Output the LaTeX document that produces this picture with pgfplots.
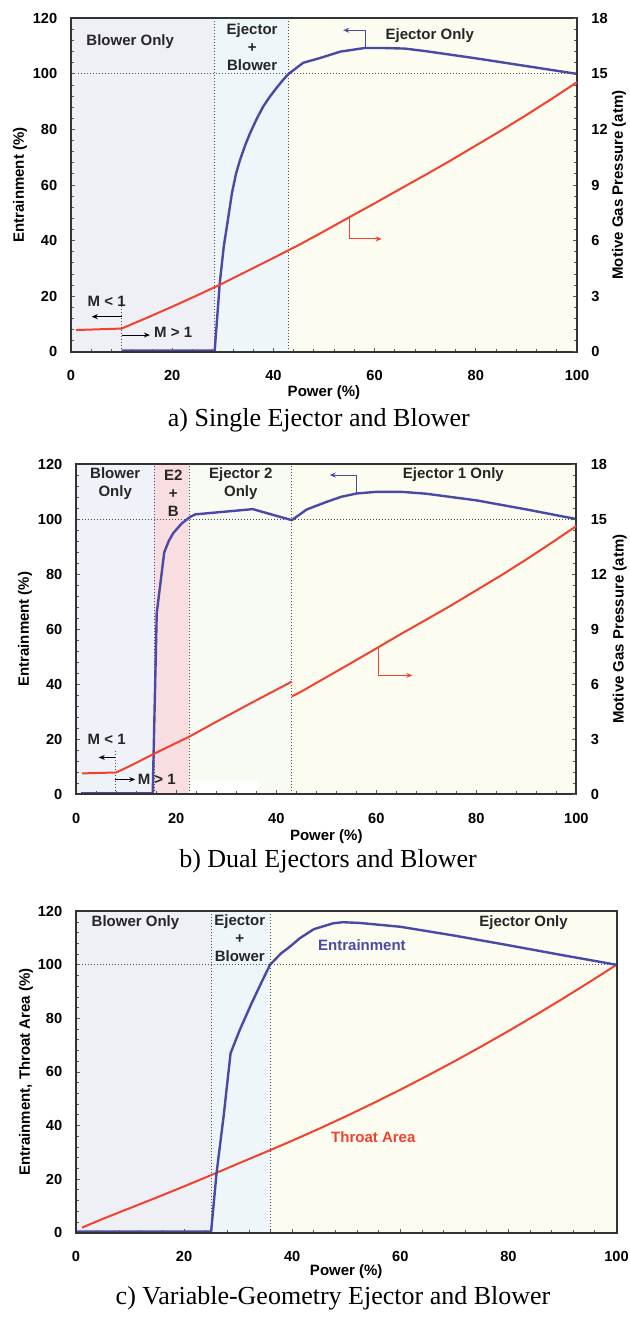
\documentclass[border=0pt]{standalone}
\usepackage{fontspec}
\setmainfont{Liberation Serif}
\setsansfont{Liberation Sans}
\usepackage{pgfplots}
\pgfplotsset{compat=1.18}
\usetikzlibrary{arrows.meta}

\definecolor{entblue}{HTML}{4A4AA6}
\definecolor{prsred}{HTML}{F2412F}
\definecolor{bgblow}{HTML}{EFEFF6}
\definecolor{bgmix}{HTML}{EEF6FA}
\definecolor{bgejec}{HTML}{FCFCF1}
\definecolor{bgpink}{HTML}{F8DEE1}
\definecolor{bgblowb}{HTML}{F0F2F9}
\definecolor{bgej2}{HTML}{F8FAF4}
\definecolor{axgray}{HTML}{333333}

\tikzset{
  dotln/.style={densely dotted, gray!60!black, line width=0.5pt},
  ent/.style={entblue, line width=1.2pt},
  prs/.style={prsred, line width=1pt},
  lbl/.style={font=\sffamily\bfseries\fontsize{7.5}{9}\selectfont, align=center, text=black!85},
  arr/.style={line width=0.5pt, -{Stealth[length=3pt,width=2.5pt]}},
}

\pgfplotsset{
  panel/.style={
    scale only axis, axis on top,
    xmin=0, xmax=100, ymin=0, ymax=120,
    xtick={0,20,...,100}, ytick={0,20,...,120},
    minor x tick num=4, minor y tick num=4,
    tick align=inside, xtick pos=left, ytick pos=left,
    major tick length=2pt, minor tick length=1.5pt,
    every tick/.style={gray!70!black, line width=0.4pt},
    axis line style={-, axgray, line width=1pt},
    ticklabel style={font=\sffamily\bfseries\fontsize{7.3}{8}\selectfont},
    /pgf/number format/assume math mode=true,
    xticklabel style={yshift=-6pt},
    yticklabel style={xshift=-3.4pt},
    label style={font=\sffamily\bfseries\fontsize{7.5}{9}\selectfont},
    xlabel={Power (\%)},
  },
  rightax/.style={
    scale only axis,
    xmin=0, xmax=100, ymin=0, ymax=18,
    ytick={0,3,...,18}, minor y tick num=4,
    axis x line=none, axis y line*=right,
    tick align=inside,
    major tick length=2pt, minor tick length=1.5pt,
    every tick/.style={gray!70!black, line width=0.4pt},
    axis line style={-, axgray, line width=1pt},
    ticklabel style={font=\sffamily\bfseries\fontsize{7.3}{8}\selectfont},
    /pgf/number format/assume math mode=true,
    yticklabel style={xshift=3.7pt},
    label style={font=\sffamily\bfseries\fontsize{7.5}{9}\selectfont},
    ylabel={Motive Gas Pressure (atm)},
  },
}

\begin{document}
\begin{tikzpicture}
\path[use as bounding box] (0,0) rectangle (314.5pt,-659pt);

% ---------- a) single ejector and blower ----------
\begin{axis}[panel, at={(35.5pt,-175.85pt)}, anchor=south west,
  width=253pt, height=166.7pt,
  ylabel={Entrainment (\%)},
  ylabel style={at={(axis description cs:-0.1008,0.5)}, anchor=center},
  xlabel style={at={(axis description cs:0.5,-0.123)}, anchor=center}]
  \addplot[draw=none, fill=bgblow] coordinates {(0,0) (0,120) (28.3,120) (28.3,0)};
  \addplot[draw=none, fill=bgmix] coordinates {(28.3,0) (28.3,120) (43,120) (43,0)};
  \addplot[draw=none, fill=bgejec] coordinates {(43,0) (43,120) (100,120) (100,0)};
  \addplot[dotln] coordinates {(28.3,0) (28.3,120)};
  \addplot[dotln] coordinates {(43,0) (43,120)};
  \addplot[dotln] coordinates {(1.4,100) (100,100)};
  \addplot[dotln] coordinates {(10,0) (10,17.5)};
  \addplot[ent] coordinates {
    (10,0.4) (28.4,0.4) (29.4,24.7) (30.2,38) (30.8,45) (31.8,57) (32.6,64)
    (33.4,69) (34.4,74.2) (35.4,78.7) (36.7,83.8) (38,88.3) (39.3,91.8)
    (40.6,94.9) (41.8,97.6) (43,100) (45.9,104) (49.4,105.8)
    (53.2,108) (58,109.3) (62,109.3) (66,109.1) (70,108.2) (80,105.6)
    (90,102.8) (100,100)};
  \node[lbl] at (axis cs:11.7,111.6) {Blower Only};
  \node[lbl] at (axis cs:35.8,109.6) {Ejector\\+\\Blower};
  \node[lbl] at (axis cs:70.9,113.6) {Ejector Only};
  \node[lbl] at (axis cs:7.05,18) {M < 1};
  \node[lbl] at (axis cs:20.2,6.9) {M > 1};
  \draw[arr] (axis cs:10,12.6) -- (axis cs:4.1,12.6);
  \draw[arr] (axis cs:10,6.0) -- (axis cs:15.6,6.0);
  \draw[arr, entblue] (axis cs:58.2,109.4) -- (axis cs:58.2,115.7) -- (axis cs:53.8,115.7);
  \draw[arr, prsred] (axis cs:55,48.5) -- (axis cs:55,40.6) -- (axis cs:61.4,40.6);
\end{axis}
\begin{axis}[rightax, at={(35.5pt,-175.85pt)}, anchor=south west,
  width=253pt, height=166.7pt,
  ylabel style={at={(axis description cs:1.083,0.5)}, anchor=center}]
  \addplot[prs] coordinates {
    (1,1.17) (10,1.25) (15,1.83) (20,2.43) (25,3.05) (30,3.69) (35,4.38)
    (40,5.06) (45,5.76) (50,6.50) (55,7.26) (60,8.01) (65,8.78) (70,9.54)
    (75,10.32) (80,11.13) (85,11.94) (90,12.78) (95,13.65) (100,14.55)};
\end{axis}
\node[font=\fontsize{13}{15}\selectfont] at (159.4pt,-210pt) {a) Single Ejector and Blower};

% ---------- b) dual ejectors and blower ----------
\begin{axis}[panel, at={(38.1pt,-397.15pt)}, anchor=south west,
  width=250.1pt, height=165.15pt,
  ylabel={Entrainment (\%)},
  ylabel style={at={(axis description cs:-0.1026,0.5)}, anchor=center},
  xlabel style={at={(axis description cs:0.5,-0.128)}, anchor=center}]
  \addplot[draw=none, fill=bgblowb] coordinates {(0,0) (0,120) (15.6,120) (15.6,0)};
  \addplot[draw=none, fill=bgpink] coordinates {(15.6,0) (15.6,120) (22.6,120) (22.6,0)};
  \addplot[draw=none, fill=bgej2] coordinates {(22.6,0) (22.6,120) (43.1,120) (43.1,0)};
  \addplot[draw=none, fill=white] coordinates {(22.6,0) (22.6,5.2) (36.5,5.2) (36.5,0)};
  \addplot[draw=none, fill=bgejec] coordinates {(43.1,0) (43.1,120) (100,120) (100,0)};
  \addplot[dotln] coordinates {(15.6,0) (15.6,120)};
  \addplot[dotln] coordinates {(22.6,0) (22.6,120)};
  \addplot[dotln] coordinates {(43.1,0) (43.1,120)};
  \addplot[dotln] coordinates {(0.5,100) (100,100)};
  \addplot[dotln] coordinates {(7.8,0) (7.8,16)};
  \addplot[ent] coordinates {
    (1,0.4) (15.3,0.4) (16.1,65.8) (17.6,87.9) (18.5,92) (19.4,94.9) (21.1,98.4)
    (22.8,100.8) (23.8,101.7) (35.3,103.6) (43.1,99.6) (46.1,103.5)
    (50,106.2) (53,108.1) (56.1,109.3) (60.1,109.9) (65,109.9) (70,109.2)
    (80,106.8) (90,103.5) (100,100)};
  \node[lbl] at (axis cs:7.8,112.7) {Blower\\Only};
  \node[lbl] at (axis cs:19.4,109.4) {E2\\+\\B};
  \node[lbl] at (axis cs:32.9,112.7) {Ejector 2\\Only};
  \node[lbl] at (axis cs:75.4,116) {Ejector 1 Only};
  \node[lbl] at (axis cs:6.1,20) {M < 1};
  \node[lbl] at (axis cs:16.1,5.4) {M > 1};
  \draw[arr] (axis cs:7.8,13.4) -- (axis cs:4.5,13.4);
  \draw[arr] (axis cs:7.8,5.4) -- (axis cs:11.8,5.4);
  \draw[arr, entblue] (axis cs:56,109.4) -- (axis cs:56,116) -- (axis cs:50.7,116);
  \draw[arr, prsred] (axis cs:60.5,53.1) -- (axis cs:60.5,43.2) -- (axis cs:67.2,43.2);
\end{axis}
\begin{axis}[rightax, at={(38.1pt,-397.15pt)}, anchor=south west,
  width=250.1pt, height=165.15pt,
  ylabel style={at={(axis description cs:1.0866,0.5)}, anchor=center}]
  \addplot[prs] coordinates {
    (1.2,1.14) (8,1.19) (10.8,1.55) (15.4,2.19) (22.6,3.14) (28,3.95)
    (34.8,4.95) (43.1,6.14)};
  \addplot[prs] coordinates {
    (43.1,5.33) (45,5.6) (50,6.38) (55,7.16) (60,7.95) (65,8.75) (70,9.52)
    (75,10.3) (80,11.12) (85,11.94) (90,12.8) (95,13.7) (100,14.62)};
\end{axis}
\node[font=\fontsize{13}{15}\selectfont] at (164pt,-430.5pt) {b) Dual Ejectors and Blower};

% ---------- c) variable-geometry ejector and blower ----------
\begin{axis}[panel, at={(38pt,-616.35pt)}, anchor=south west,
  width=270.25pt, height=160.75pt,
  ylabel={Entrainment, Throat Area (\%)},
  ylabel style={at={(axis description cs:-0.0925,0.5)}, anchor=center},
  xlabel style={at={(axis description cs:0.5,-0.121)}, anchor=center}]
  \addplot[draw=none, fill=bgblow] coordinates {(0,0) (0,120) (25.1,120) (25.1,0)};
  \addplot[draw=none, fill=bgmix] coordinates {(25.1,0) (25.1,120) (35.9,120) (35.9,0)};
  \addplot[draw=none, fill=bgejec] coordinates {(35.9,0) (35.9,120) (100,120) (100,0)};
  \addplot[dotln] coordinates {(25.1,0) (25.1,120)};
  \addplot[dotln] coordinates {(35.9,0) (35.9,120)};
  \addplot[dotln] coordinates {(1.1,100) (100,100)};
  \addplot[prs] coordinates {
    (1.1,1.9) (5,5.2) (10,9.2) (15,13.2) (20,17.3) (25,21.5) (30,25.8)
    (35.9,30.8) (40,34.35) (45,38.84) (50,43.5) (55,48.35) (60,53.37)
    (65,58.58) (70,63.96) (75,69.53) (80,75.27) (85,81.19) (90,87.29)
    (95,93.57) (100,100)};
  \addplot[ent] coordinates {
    (0,0.4) (25,0.4) (26,22.2) (27.3,43.3) (28.6,67) (30.3,75.7) (32.5,85.7)
    (34.4,93.8) (35.9,100) (37.9,104.2) (39.6,106.8) (41.4,109.9) (44,113.3)
    (47.6,115.5) (49.4,115.9) (52.6,115.6) (60,114.2) (70,110.9)
    (80,107.3) (90,103.6) (100,100)};
  \node[lbl] at (axis cs:11,115.8) {Blower Only};
  \node[lbl] at (axis cs:30.3,109.9) {Ejector\\+\\Blower};
  \node[lbl] at (axis cs:82.8,115.8) {Ejector Only};
  \node[lbl, text=entblue] at (axis cs:52.9,107.4) {Entrainment};
  \node[lbl, text=prsred] at (axis cs:55,35.8) {Throat Area};
\end{axis}
\node[font=\fontsize{13}{15}\selectfont] at (166.5pt,-649pt) {c) Variable-Geometry Ejector and Blower};
\end{tikzpicture}
\end{document}
